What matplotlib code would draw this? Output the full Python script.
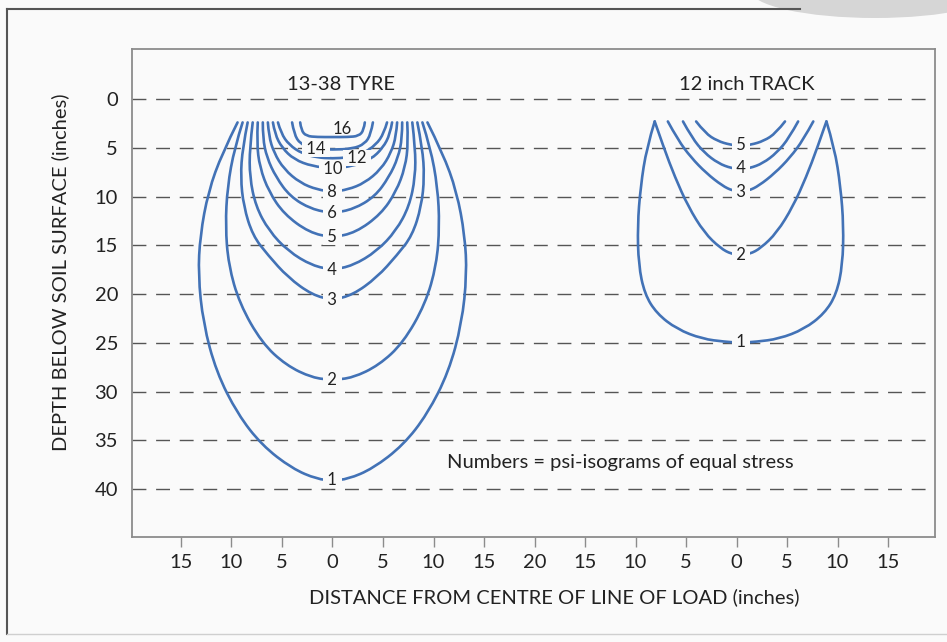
import numpy as np
import matplotlib
matplotlib.use("Agg")
import matplotlib.pyplot as plt
from matplotlib.path import Path
from matplotlib.patches import PathPatch, Ellipse
from matplotlib.lines import Line2D

plt.rcParams['font.family'] = ['Lato', 'DejaVu Sans']

# ---------------- data ----------------
depth_ticks = [0, 5, 10, 15, 20, 25, 30, 35, 40]
x_tick_pos = [-15, -10, -5, 0, 5, 10, 15, 20, 25, 30, 35, 40, 45, 50, 55]
x_tick_labels = ["15", "10", "5", "0", "5", "10", "15", "20",
                 "15", "10", "5", "0", "5", "10", "15"]

# 13-38 tyre: stress isobars (psi), right half of each curve (distance, depth), top -> centre
tyre_levels = ["1", "2", "3", "4", "5", "6", "8", "10", "12", "14", "16"]
tyre_half_u = [
    [9.4, 10.9, 12.3, 13.1, 13.3, 12.8, 11.5, 9.4, 7.0, 4.0, 1.5, 0.0],
    [8.9, 9.7, 10.4, 10.6, 10.3, 9.2, 7.0, 4.6, 2.0, 0.0],
    [8.4, 8.9, 9.1, 8.8, 7.9, 6.4, 4.4, 2.0, 0.0],
    [7.9, 8.2, 8.2, 7.6, 6.3, 4.4, 2.0, 0.0],
    [7.4, 7.5, 7.2, 6.3, 4.8, 2.3, 0.0],
    [6.9, 6.9, 6.5, 5.6, 4.2, 2.1, 0.0],
    [6.4, 6.3, 5.8, 4.8, 3.2, 1.5, 0.0],
    [5.9, 5.7, 5.0, 3.8, 2.0, 0.0],
    [5.4, 5.1, 4.3, 3.0, 1.5, 0.0],
    [4.0, 3.8, 3.2, 2.0, 0.0],
    [3.2, 3.1, 2.6, 1.5, 0.0],
]
tyre_half_depth = [
    [2.4, 5.5, 9.5, 14.0, 18.0, 23.0, 28.0, 32.3, 35.5, 37.9, 39.0, 39.1],
    [2.4, 5.0, 9.0, 13.0, 17.0, 21.0, 25.0, 27.3, 28.6, 28.8],
    [2.4, 5.0, 8.0, 11.0, 14.0, 16.0, 18.3, 20.1, 20.6],
    [2.4, 5.0, 8.0, 11.0, 13.5, 15.6, 17.1, 17.5],
    [2.4, 4.5, 7.0, 9.5, 11.8, 13.7, 14.2],
    [2.4, 4.0, 6.0, 8.0, 10.0, 11.3, 11.7],
    [2.4, 3.8, 5.5, 7.2, 8.6, 9.3, 9.5],
    [2.4, 3.6, 5.0, 6.2, 6.9, 7.1],
    [2.4, 3.5, 4.7, 5.6, 6.0, 6.1],
    [2.4, 3.6, 4.6, 5.1, 5.2],
    [2.4, 3.2, 3.8, 3.9, 3.9],
]
tyre_label_u = [0, 0, 0, 0, 0, 0, 0, 0, 2.4, -1.6, 1.0]
tyre_label_depth = [39.1, 28.8, 20.6, 17.5, 14.2, 11.7, 9.5, 7.2, 6.0, 5.15, 3.1]

# 12 inch track
track_centre = 40.4
track_levels = ["1", "2", "3", "4", "5"]
track_half_u = [
    [8.5, 9.3, 9.9, 10.2, 10.1, 9.5, 8.3, 6.3, 3.8, 1.5, 0.0],
    [8.5, 7.6, 6.5, 5.2, 3.6, 2.0, 0.9, 0.0],
    [7.2, 6.2, 4.9, 3.4, 1.8, 0.8, 0.0],
    [5.7, 4.8, 3.6, 2.2, 0.9, 0.0],
    [4.4, 3.5, 2.3, 1.0, 0.0],
]
track_half_depth = [
    [2.3, 5.0, 9.0, 13.0, 17.0, 20.0, 22.0, 23.6, 24.6, 24.9, 25.0],
    [2.3, 5.0, 8.0, 11.0, 13.7, 15.3, 15.9, 16.0],
    [2.3, 4.2, 6.0, 7.6, 8.9, 9.4, 9.5],
    [2.3, 4.0, 5.5, 6.6, 7.1, 7.2],
    [2.3, 3.5, 4.3, 4.7, 4.8],
]
track_label_u = [0, 0, 0, 0, 0]
track_label_depth = [24.9, 16.0, 9.5, 7.1, 4.7]

# ---------------- style ----------------
BG = '#fafafa'
LINE_BLUE = '#4272b6'
GRID = '#555555'
SPINE = '#8c8c8c'
TEXT = '#222222'
FS = 14.5
LABEL_FS = 12

W, H = 947, 642
fig = plt.figure(figsize=(W / 100, H / 100), dpi=100, facecolor=BG)
ax = fig.add_axes([132 / W, 1 - 537 / H, (935 - 132) / W, (537 - 49) / H])
ax.set_facecolor(BG)
ax.set_xlim(-19.85, 59.65)
ax.set_ylim(44.92, -5.13)


def smooth_path(points):
    """Quadratic B-spline path through the given control points."""
    pts = np.asarray(points, float)
    n = len(pts)
    verts = [pts[0]]
    codes = [Path.MOVETO]
    if n == 2:
        verts.append(pts[1])
        codes.append(Path.LINETO)
    for i in range(1, n - 1):
        end = pts[-1] if i == n - 2 else (pts[i] + pts[i + 1]) / 2
        verts += [pts[i], end]
        codes += [Path.CURVE3, Path.CURVE3]
    return Path(verts, codes)


def draw_isobar(centre, half_u, half_d):
    left = [(centre - u, d) for u, d in zip(half_u, half_d)]
    right = [(centre + u, d) for u, d in zip(half_u, half_d)]
    pts = left + right[-2::-1]
    ax.add_patch(PathPatch(smooth_path(pts), fill=False, edgecolor=LINE_BLUE,
                           lw=1.9, capstyle='round', joinstyle='round', zorder=3))


def draw_label(x, y, text, boxed=True):
    kw = dict(ha='center', va='center', fontsize=LABEL_FS, color=TEXT, zorder=5)
    if boxed:
        kw['bbox'] = dict(boxstyle='square,pad=0.0', fc=BG, ec='none')
        text = f" {text} "
    ax.text(x, y, text, **kw)


# dashed depth lines
for d in depth_ticks:
    ax.axhline(d, color=GRID, lw=1.0, dashes=(10, 7), zorder=1)

for k, lvl in enumerate(tyre_levels):
    draw_isobar(0.0, tyre_half_u[k], tyre_half_depth[k])
    draw_label(tyre_label_u[k], tyre_label_depth[k], lvl, boxed=(lvl != "16"))

for k, lvl in enumerate(track_levels):
    draw_isobar(track_centre, track_half_u[k], track_half_depth[k])
    draw_label(track_centre + track_label_u[k], track_label_depth[k], lvl)

ax.text(0.8, -1.45, "13-38 TYRE", ha='center', va='center', fontsize=FS, color=TEXT)
ax.text(41.0, -1.45, "12 inch TRACK", ha='center', va='center', fontsize=FS, color=TEXT)
ax.text(11.3, 37.3, "Numbers = psi-isograms of equal stress", ha='left', va='center',
        fontsize=FS, color=TEXT)

# axes
ax.set_xticks(x_tick_pos)
ax.set_xticklabels(x_tick_labels)
ax.set_yticks(depth_ticks)
ax.set_yticklabels([str(d) for d in depth_ticks])
ax.tick_params(axis='x', length=7, width=1, color=SPINE, pad=5, labelsize=FS,
               labelcolor=TEXT)
ax.tick_params(axis='y', length=0, pad=10, labelsize=FS, labelcolor=TEXT)
for s in ax.spines.values():
    s.set_color(SPINE)
    s.set_linewidth(1.3)

fig.text(554 / W, 1 - 597 / H, "DISTANCE FROM CENTRE OF LINE OF LOAD (inches)",
         ha='center', va='center', fontsize=FS, color=TEXT)
fig.text(60 / W, 1 - 272 / H, "DEPTH BELOW SOIL SURFACE (inches)",
         ha='center', va='center', rotation=90, fontsize=FS, color=TEXT)

# page frame
fig.add_artist(Line2D([7 / W, 7 / W], [1 - 9 / H, 1 - 634 / H], transform=fig.transFigure,
                      color='#555555', lw=1.5))
fig.add_artist(Line2D([7 / W, 800 / W], [1 - 9 / H, 1 - 9 / H], transform=fig.transFigure,
                      color='#555555', lw=1.5))
fig.add_artist(Line2D([7 / W, 947 / W], [1 - 634 / H, 1 - 634 / H], transform=fig.transFigure,
                      color='#cfcfcf', lw=1.0))
fig.add_artist(Ellipse((875 / W, 1 + 10 / H), 250 / W, 56 / H, transform=fig.transFigure,
                       facecolor='#d6d6d6', edgecolor='none'))

fig.savefig("out.png", dpi=100, facecolor=BG)
